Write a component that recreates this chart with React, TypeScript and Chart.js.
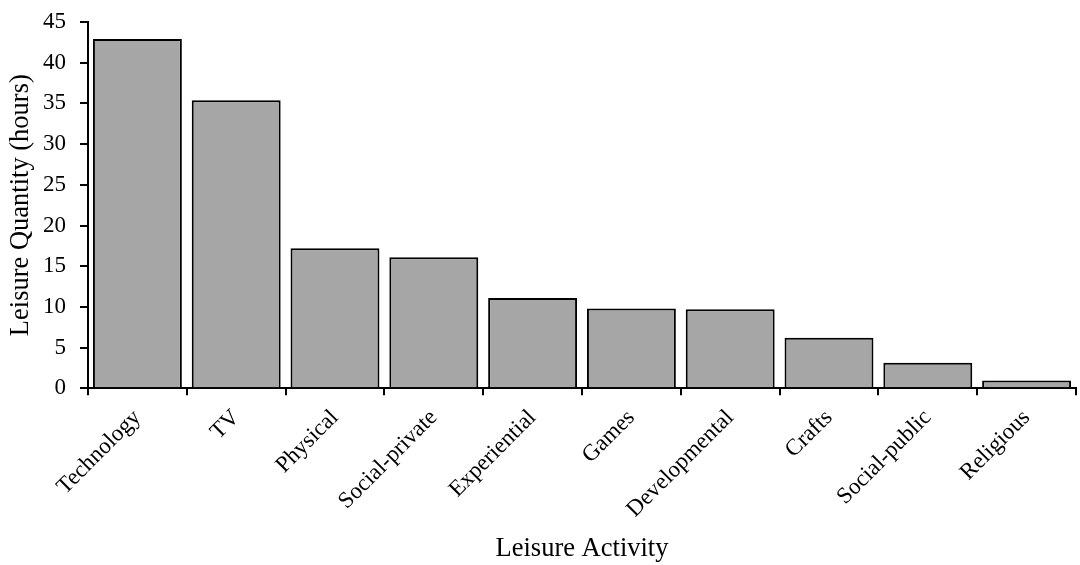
import React, { useEffect, useRef } from "react";
import { Chart, registerables } from "chart.js";

Chart.register(...registerables);

const categories = [
  "Technology",
  "TV",
  "Physical",
  "Social-private",
  "Experiential",
  "Games",
  "Developmental",
  "Crafts",
  "Social-public",
  "Religious",
];
const hours = [42.9, 35.4, 17.2, 16.1, 11.1, 9.8, 9.7, 6.2, 3.15, 0.95];

const yTitle = "Leisure Quantity (hours)";
const xTitle = "Leisure Activity";

export default function App() {
  const ref = useRef<HTMLCanvasElement | null>(null);

  useEffect(() => {
    if (!ref.current) return;
    const font = "'Liberation Serif', 'Times New Roman', serif";
    const chart = new Chart(ref.current, {
      type: "bar",
      data: {
        labels: categories,
        datasets: [
          {
            data: hours,
            backgroundColor: "#a6a6a6",
            borderColor: "#000000",
            borderWidth: 2,
            barPercentage: 0.9,
            categoryPercentage: 1.0,
          },
        ],
      },
      options: {
        animation: false,
        responsive: false,
        maintainAspectRatio: false,
        layout: { padding: { top: 22, right: 4, left: 2, bottom: 0 } },
        plugins: {
          legend: { display: false },
          tooltip: { enabled: false },
        },
        scales: {
          x: {
            afterFit: (scale: any) => {
              scale.paddingLeft = 0;
            },
            grid: {
              display: true,
              drawOnChartArea: false,
              drawTicks: true,
              tickLength: 7,
              color: "#000000",
              lineWidth: 2,
              offset: true,
            },
            border: { display: true, color: "#000000", width: 2 },
            ticks: {
              color: "#000000",
              font: { family: font, size: 23 },
              minRotation: 45,
              maxRotation: 45,
              padding: 9,
            },
            title: {
              display: true,
              text: xTitle,
              color: "#000000",
              font: { family: font, size: 26.5 },
              padding: { top: 1, bottom: 0 },
            },
          },
          y: {
            min: 0,
            max: 45,
            afterFit: (scale: any) => {
              scale.width = 86;
              scale.paddingTop = 0;
              scale.paddingBottom = 0;
            },
            ticks: {
              stepSize: 5,
              color: "#000000",
              font: { family: font, size: 23 },
              padding: 14,
            },
            grid: {
              display: true,
              drawOnChartArea: false,
              drawTicks: true,
              tickLength: 8,
              color: "#000000",
              lineWidth: 2,
            },
            border: { display: true, color: "#000000", width: 2 },
            title: {
              display: true,
              text: yTitle,
              color: "#000000",
              font: { family: font, size: 26.5 },
              padding: { top: 3, bottom: 5 },
            },
          },
        },
      },
    });
    return () => chart.destroy();
  }, []);

  return (
    <div style={{ position: "fixed", left: 0, top: 0, width: 1080, height: 565, background: "#ffffff" }}>
      <canvas ref={ref} width={1080} height={565} style={{ width: 1080, height: 565 }} />
    </div>
  );
}
